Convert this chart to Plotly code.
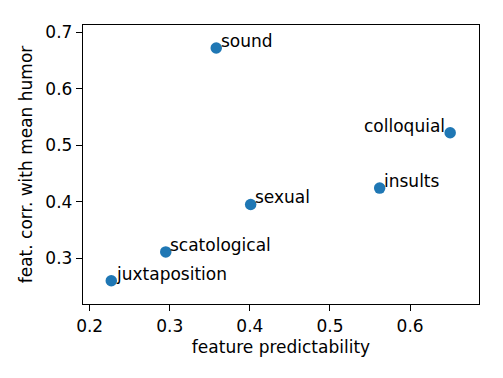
import plotly.graph_objects as go

labels = ["sound", "colloquial", "insults", "sexual", "scatological", "juxtaposition"]
predictability = [0.358, 0.650, 0.562, 0.401, 0.295, 0.227]
corr_humor = [0.672, 0.522, 0.424, 0.395, 0.311, 0.260]
x_ticks = [0.2, 0.3, 0.4, 0.5, 0.6]
y_ticks = [0.3, 0.4, 0.5, 0.6, 0.7]

FONT = "DejaVu Sans"
FS = 17
C0 = "#1f77b4"

fig = go.Figure()
fig.add_trace(go.Scatter(
    x=predictability, y=corr_humor, mode="markers",
    marker=dict(size=11.5, color=C0, line=dict(width=0)),
    showlegend=False, hoverinfo="skip",
))

annotations = []
for lab, xv, yv in zip(labels, predictability, corr_humor):
    right = lab == "colloquial"
    annotations.append(dict(
        x=xv, y=yv, xref="x", yref="y", text=lab, showarrow=False,
        xanchor="right" if right else "left", yanchor="bottom",
        xshift=-4 if right else 3.5, yshift=-4, borderpad=0,
        font=dict(family=FONT, size=FS, color="black"),
    ))

fig.update_layout(
    width=503, height=378,
    margin=dict(l=75, r=32, t=17, b=82, pad=0),
    paper_bgcolor="white", plot_bgcolor="white",
    font=dict(family=FONT, size=FS, color="black"),
    annotations=annotations,
    xaxis=dict(
        range=[0.1917, 0.686], tickvals=x_ticks, ticktext=[f"{v:.1f}" for v in x_ticks],
        showgrid=False, zeroline=False, showline=True, linecolor="black", linewidth=1.4,
        mirror=True, ticks="outside", ticklen=6, tickwidth=1.4, tickcolor="black",
        title=dict(text="feature predictability", standoff=6, font=dict(size=FS)),
        tickfont=dict(size=FS), automargin=False,
    ),
    yaxis=dict(
        range=[0.2188, 0.7127], tickvals=y_ticks, ticktext=[f"{v:.1f}" for v in y_ticks],
        showgrid=False, zeroline=False, showline=True, linecolor="black", linewidth=1.4,
        mirror=True, ticks="outside", ticklen=6, tickwidth=1.4, tickcolor="black",
        title=dict(text="feat. corr. with mean humor", standoff=8, font=dict(size=FS)),
        tickfont=dict(size=FS), automargin=False,
    ),
)

fig.write_html("out.html")
